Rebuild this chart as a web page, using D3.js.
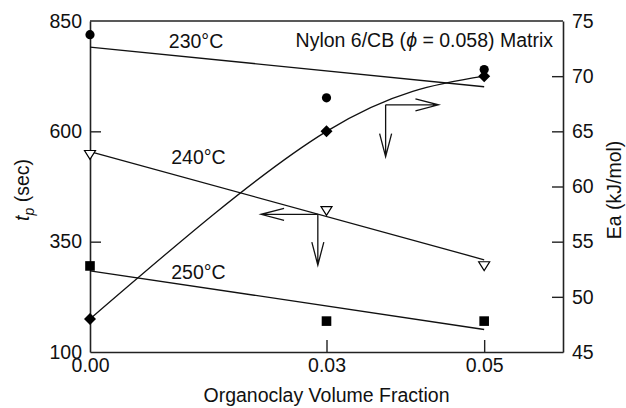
<!DOCTYPE html>
<html>
<head>
<meta charset="utf-8">
<script src="https://cdn.jsdelivr.net/npm/d3@7"></script>
<style>
  body { margin: 0; background: #fff; }
  text { font-family: "Liberation Sans", Arial, Helvetica, sans-serif; fill: #111; }
</style>
</head>
<body>
<svg id="root" width="626" height="408"></svg>
<script>
// organoclay volume fraction
const fractions = [0, 0.03, 0.05];

// tp (sec), left axis
const tp230 = [819, 676, 740];
const tp240 = [547, 420, 295];
const tp250 = [295, 170, 170];

// Ea (kJ/mol), right axis
const ea = [48, 65, 70];

// fitted lines, values at x = 0 and x = 0.05
const fitX = [0, 0.05];
const fit230 = [791, 701];
const fit240 = [554, 309];
const fit250 = [284, 151];

const tpTicks = [100, 350, 600, 850];
const eaTicks = [45, 50, 55, 60, 65, 70, 75];
const xTicks = [0, 0.03, 0.05];

const lineLabels = [
    { text: "230°C", x: 0.0100, tp: 788 },
    { text: "240°C", x: 0.0103, tp: 525 },
    { text: "250°C", x: 0.0103, tp: 266 },
];

// arrows: corner, horizontal end, vertical end
const eaArrow = { x: 0.0375, ea: 67.4, xEnd: 0.0442, eaEnd: 62.7 };
const tpArrow = { x: 0.0289, tp: 412, xEnd: 0.0217, tpEnd: 297 };

const main = () => {
    const svg = d3.select("#root");

    const margin = { top: 21, left: 90, bottom: 56, right: 63 };
    const dimensions = { width: 626, height: 408 };
    const font = "19.5px";

    const xScale = d3
        .scaleLinear()
        .domain([0, 0.06])
        .range([margin.left, dimensions.width - margin.right]);
    const tpScale = d3
        .scaleLinear()
        .domain([100, 850])
        .range([dimensions.height - margin.bottom, margin.top]);
    const eaScale = d3
        .scaleLinear()
        .domain([45, 75])
        .range([dimensions.height - margin.bottom, margin.top]);

    const x0 = margin.left;
    const x1 = dimensions.width - margin.right;
    const y0 = margin.top;
    const y1 = dimensions.height - margin.bottom;

    const styleAxis = (g) => {
        g.selectAll("path.domain").attr("stroke", "#222").attr("stroke-width", 1.6);
        g.selectAll(".tick line").attr("stroke", "#222").attr("stroke-width", 1.4);
        g.selectAll("text").style("font-size", font).attr("fill", "#111");
    };

    // top border
    svg.append("line")
        .attr("x1", x0).attr("x2", x1)
        .attr("y1", y0).attr("y2", y0)
        .attr("stroke", "#222").attr("stroke-width", 1.6);

    svg.append("g")
        .attr("transform", `translate(${x0},0)`)
        .call(d3.axisLeft(tpScale).tickValues(tpTicks).tickSizeInner(-11).tickSizeOuter(0).tickPadding(8))
        .call(styleAxis)
        .call((g) => g.selectAll(".tick line").filter((d) => d == 100 || d == 850).remove());

    svg.append("g")
        .attr("transform", `translate(${x1},0)`)
        .call(d3.axisRight(eaScale).tickValues(eaTicks).tickSizeInner(-11).tickSizeOuter(0).tickPadding(9))
        .call(styleAxis)
        .call((g) => g.selectAll(".tick line").filter((d) => d == 45 || d == 75).remove());

    svg.append("g")
        .attr("transform", `translate(0,${y1})`)
        .call(d3.axisBottom(xScale).tickValues(xTicks).tickFormat(d3.format(".2f")).tickSizeInner(-12).tickSizeOuter(0).tickPadding(6))
        .call(styleAxis)
        .call((g) => g.selectAll(".tick line").filter((d) => d == 0).remove());

    // axis titles
    svg.append("text")
        .attr("x", (x0 + x1) / 2)
        .attr("y", 402)
        .attr("text-anchor", "middle")
        .style("font-size", font)
        .text("Organoclay Volume Fraction");

    const tpLabel = svg.append("text")
        .attr("transform", "translate(29,190) rotate(-90)")
        .attr("text-anchor", "middle")
        .style("font-size", font);
    tpLabel.append("tspan").style("font-style", "italic").text("t");
    tpLabel.append("tspan").style("font-style", "italic").style("font-size", "14px").attr("dy", 5).text("p");
    tpLabel.append("tspan").attr("dy", -5).text(" (sec)");

    svg.append("text")
        .attr("transform", "translate(621,190) rotate(-90)")
        .attr("text-anchor", "middle")
        .style("font-size", font)
        .text("Ea (kJ/mol)");

    const title = svg.append("text")
        .attr("x", 553)
        .attr("y", 47)
        .attr("text-anchor", "end")
        .style("font-size", font);
    title.append("tspan").text("Nylon 6/CB (");
    title.append("tspan").style("font-style", "italic").text("ϕ");
    title.append("tspan").text(" = 0.058) Matrix");

    svg.selectAll("text.line-label")
        .data(lineLabels)
        .join("text")
        .attr("class", "line-label")
        .attr("x", (d) => xScale(d.x))
        .attr("y", (d) => tpScale(d.tp))
        .style("font-size", font)
        .text((d) => d.text);

    // fitted lines
    const fitLine = d3.line()
        .x((d, i) => xScale(fitX[i]))
        .y((d) => tpScale(d));
    [fit230, fit240, fit250].forEach((fit) => {
        svg.append("path")
            .attr("d", fitLine(fit))
            .attr("fill", "none")
            .attr("stroke", "#111")
            .attr("stroke-width", 1.3);
    });

    // Ea curve through the diamonds
    const eaLine = d3.line()
        .x((d, i) => xScale(fractions[i]))
        .y((d) => eaScale(d))
        .curve(d3.curveNatural);
    svg.append("path")
        .attr("d", eaLine(ea))
        .attr("fill", "none")
        .attr("stroke", "#111")
        .attr("stroke-width", 1.3);

    // arrows
    const arrow = (ax, ay, bx, by) => {
        const len = Math.hypot(bx - ax, by - ay);
        const ux = (bx - ax) / len;
        const uy = (by - ay) / len;
        const hl = 23, hw = 6;
        svg.append("path")
            .attr("d", `M${ax},${ay}L${bx},${by}` +
                `M${bx - ux * hl - uy * hw},${by - uy * hl + ux * hw}L${bx},${by}` +
                `L${bx - ux * hl + uy * hw},${by - uy * hl - ux * hw}`)
            .attr("fill", "none")
            .attr("stroke", "#111")
            .attr("stroke-width", 1.3);
    };
    const ea1x = xScale(eaArrow.x), ea1y = eaScale(eaArrow.ea);
    arrow(ea1x, ea1y, xScale(eaArrow.xEnd), ea1y);
    arrow(ea1x, ea1y, ea1x, eaScale(eaArrow.eaEnd));
    const tp1x = xScale(tpArrow.x), tp1y = tpScale(tpArrow.tp);
    arrow(tp1x, tp1y, xScale(tpArrow.xEnd), tp1y);
    arrow(tp1x, tp1y, tp1x, tpScale(tpArrow.tpEnd));

    // markers
    svg.selectAll("circle.m230")
        .data(tp230)
        .join("circle")
        .attr("class", "m230")
        .attr("cx", (d, i) => xScale(fractions[i]))
        .attr("cy", (d) => tpScale(d))
        .attr("r", 4.6)
        .attr("fill", "#000");

    svg.selectAll("path.m240")
        .data(tp240)
        .join("path")
        .attr("class", "m240")
        .attr("transform", (d, i) => `translate(${xScale(fractions[i])},${tpScale(d)})`)
        .attr("d", "M-5.5,-4.2L5.5,-4.2L0,4.6Z")
        .attr("fill", "#fff")
        .attr("stroke", "#000")
        .attr("stroke-width", 1.2);

    svg.selectAll("rect.m250")
        .data(tp250)
        .join("rect")
        .attr("class", "m250")
        .attr("x", (d, i) => xScale(fractions[i]) - 4.8)
        .attr("y", (d) => tpScale(d) - 4.8)
        .attr("width", 9.6)
        .attr("height", 9.6)
        .attr("fill", "#000");

    svg.selectAll("path.mea")
        .data(ea)
        .join("path")
        .attr("class", "mea")
        .attr("transform", (d, i) => `translate(${xScale(fractions[i])},${eaScale(d)})`)
        .attr("d", "M0,-6L6,0L0,6L-6,0Z")
        .attr("fill", "#000");
};

main();
</script>
</body>
</html>
